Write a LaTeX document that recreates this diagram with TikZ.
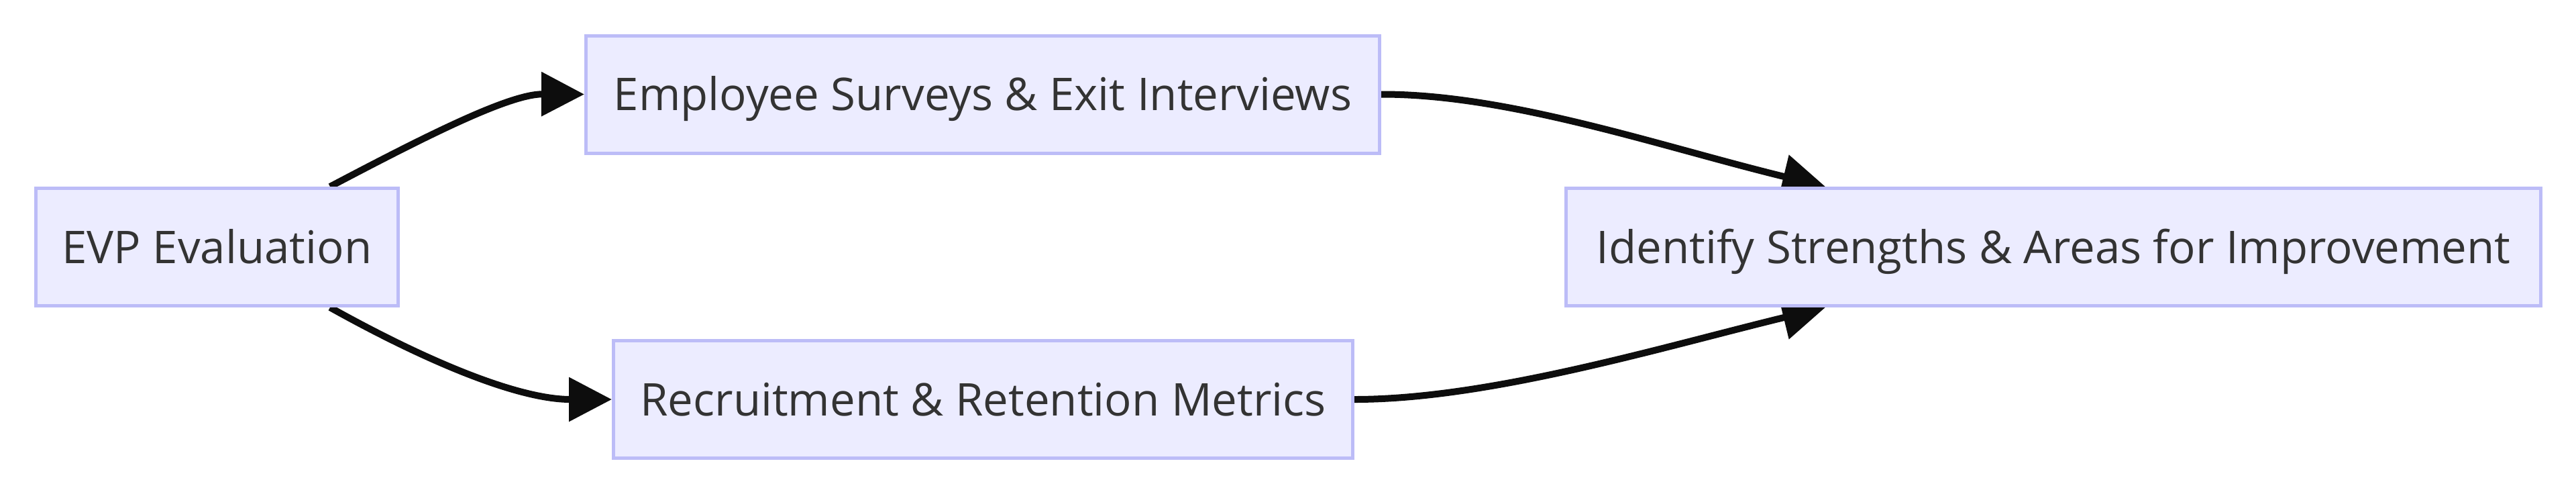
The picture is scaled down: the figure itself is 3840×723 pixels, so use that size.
\documentclass[tikz,border=0pt]{standalone}
\usepackage{fontspec}
\setmainfont{Open Sans}
\usetikzlibrary{arrows.meta}
\definecolor{nodefill}{HTML}{ECECFF}
\definecolor{nodeborder}{HTML}{BCBCF7}
\definecolor{textc}{HTML}{333333}
\definecolor{edgec}{HTML}{0D0D0D}
\pgfdeclarelayer{edges}
\pgfsetlayers{edges,main}
\begin{document}
\begin{tikzpicture}[x=0.2pt,y=-0.2pt,
  box/.style={draw=nodeborder, fill=nodefill, line width=1pt, minimum height=35pt,
    inner sep=0pt, text=textc, text height=9.6pt, text depth=0pt,
    font=\fontsize{13.44pt}{16pt}\selectfont},
  link/.style={draw=edgec, line width=2pt, -{Triangle[length=12.8pt,width=12.8pt]}}]
\useasboundingbox (0,0) rectangle (3840,723);
\node[box, minimum width=108pt] (evp) at (323.5,368) {EVP Evaluation};
\node[box, minimum width=236.6pt] (emp) at (1465,140.5) {Employee Surveys \& Exit Interviews};
\node[box, minimum width=220.4pt] (rec) at (1465.5,595) {Recruitment \& Retention Metrics};
\node[box, minimum width=290.6pt] (idf) at (3061,368) {Identify Strengths \& Areas for Improvement};
\begin{pgfonlayer}{edges}
\draw[link] ([xshift=33.7pt]evp.north) .. controls (640,200) and (760,140) .. (emp.west);
\draw[link] ([xshift=33.7pt]evp.south) .. controls (630,535) and (770,595) .. (rec.west);
\draw[link] (emp.east) .. controls (2250,140) and (2478,219) .. ([xshift=-68pt]idf.north);
\draw[link] (rec.east) .. controls (2220,595) and (2478,517) .. ([xshift=-68pt]idf.south);
\end{pgfonlayer}
\end{tikzpicture}
\end{document}
